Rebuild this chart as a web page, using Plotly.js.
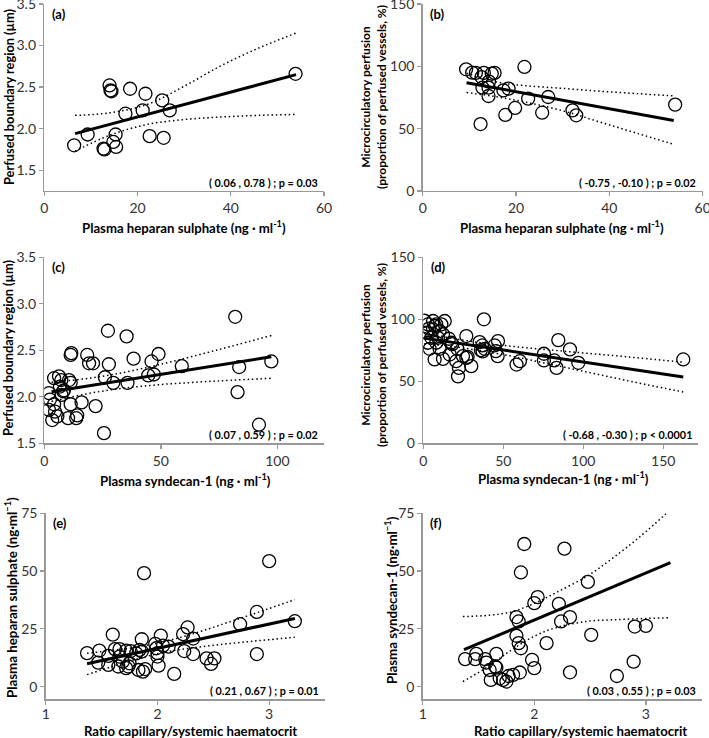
<!DOCTYPE html>
<html><head><meta charset="utf-8">
<script src="https://cdn.plot.ly/plotly-3.0.1.min.js"></script>
<style>html,body{margin:0;padding:0;background:#fff}#chart{width:709px;height:738px}</style>
</head><body><div id="chart"></div>
<script>
// ---- Panel (a): perfused boundary region vs plasma heparan sulphate
const aX = [6.4, 9.3, 12.7, 12.9, 14.0, 14.2, 14.4, 14.8, 15.3, 15.4, 17.4, 18.4, 21.1, 21.7, 22.6, 25.3, 25.6, 26.9, 53.9];
const aY = [1.80, 1.93, 1.76, 1.75, 2.52, 2.46, 2.45, 1.84, 1.93, 1.78, 2.18, 2.48, 2.22, 2.42, 1.91, 2.34, 1.89, 2.22, 2.66];
const aRegX = [6.6, 54], aRegY = [1.94, 2.65];
const aCIx = [6.6, 14, 22, 30, 38, 46, 54];
const aUp = [2.16, 2.19, 2.29, 2.51, 2.76, 2.97, 3.15];
const aLo = [1.73, 1.92, 2.05, 2.11, 2.14, 2.16, 2.17];
const aStat = "( 0.06 , 0.78 ) ; p = 0.03";

// ---- Panel (b): microcirculatory perfusion vs plasma heparan sulphate
const bX = [9.3, 10.6, 11.4, 12.6, 13.1, 12.8, 12.4, 14.1, 14.2, 14.1, 14.8, 15.4, 17.3, 18.4, 17.7, 19.8, 21.8, 22.6, 25.6, 26.9, 32.1, 32.9, 54.1];
const bY = [97.6, 94.9, 94.7, 91.4, 94.7, 82.9, 53.7, 82.9, 87.7, 76.2, 94.1, 94.7, 80.7, 82.1, 61.0, 66.6, 99.5, 74.1, 62.8, 75.4, 64.7, 60.7, 69.3];
const bRegX = [9.4, 53.8], bRegY = [86.9, 56.6];
const bCIx = [9.4, 15.9, 22, 30, 38, 46, 54];
const bUp = [94.5, 87.4, 84.5, 82.3, 80.0, 78.1, 76.2];
const bLo = [79.0, 75.5, 71.3, 64.4, 55.3, 46.2, 37.2];
const bStat = "( -0.75 , -0.10 ) ; p = 0.02";

// ---- Panel (c): perfused boundary region vs plasma syndecan-1
const cX = [2.0, 2.4, 2.0, 3.4, 4.2, 4.2, 4.6, 5.6, 6.3, 6.7, 7.3, 7.4, 8.1, 8.4, 10.2, 10.6, 11.3, 11.3, 11.6, 11.3, 13.7, 14.1, 16.0, 18.4, 19.2, 20.9, 22.0, 25.6, 26.0, 27.3, 27.7, 29.6, 35.3, 35.7, 38.3, 44.6, 46.0, 47.0, 49.0, 59.0, 81.9, 82.9, 83.6, 92.1, 97.4];
const cY = [2.04, 1.97, 1.86, 1.75, 2.20, 1.92, 1.84, 1.79, 2.22, 2.11, 2.18, 2.02, 2.06, 2.07, 1.77, 2.18, 2.15, 1.92, 2.47, 2.45, 1.77, 1.80, 1.94, 2.45, 2.36, 2.36, 1.90, 1.61, 2.21, 2.71, 2.35, 2.15, 2.65, 2.15, 2.41, 2.23, 2.38, 2.24, 2.46, 2.33, 2.86, 2.05, 2.32, 1.70, 2.38];
const cRegX = [3.1, 97.4], cRegY = [2.054, 2.43];
const cCIx = [3.1, 10, 20, 30, 40, 50, 60, 70, 80, 97.4];
const cUp = [2.157, 2.173, 2.202, 2.242, 2.293, 2.350, 2.411, 2.476, 2.542, 2.659];
const cLo = [1.951, 1.989, 2.040, 2.080, 2.109, 2.132, 2.149, 2.164, 2.178, 2.199];
const cStat = "( 0.07 , 0.59 ) ; p = 0.02";

// ---- Panel (d): microcirculatory perfusion vs plasma syndecan-1
const dX = [0.8, 2.9, 1.9, 2.9, 4.0, 5.0, 6.1, 6.1, 7.1, 8.1, 8.1, 9.2, 10.2, 10.2, 11.3, 12.3, 12.3, 13.4, 16.0, 16.5, 17.5, 18.1, 20.6, 21.3, 22.3, 21.7, 24.8, 26.9, 26.9, 27.7, 30.0, 35.2, 36.9, 36.0, 37.1, 37.9, 38.4, 44.6, 45.4, 46.5, 46.7, 58.3, 60.4, 75.4, 75.4, 81.9, 83.3, 84.4, 91.7, 96.9, 162.5, 3.5, 7.3];
const dY = [98.8, 95.9, 89.2, 81.1, 76.2, 85.1, 98.6, 91.9, 67.6, 95.9, 81.1, 85.1, 90.5, 76.2, 95.9, 87.8, 68.1, 98.6, 84.3, 71.6, 81.1, 80.0, 66.2, 76.2, 60.8, 54.0, 70.3, 68.9, 86.5, 69.7, 62.2, 81.6, 78.9, 75.1, 74.1, 100.0, 76.2, 78.9, 74.3, 70.3, 82.4, 63.5, 66.2, 72.2, 66.8, 66.8, 60.8, 83.2, 75.7, 64.9, 67.6, 92.5, 94.6];
const dRegX = [0.6, 162.5], dRegY = [84.8, 53.4];
const dCIx = [0.6, 20, 40, 60, 80, 100, 120, 140, 162.5];
const dUp = [89.4, 84.3, 80.4, 77.6, 75.2, 72.9, 70.6, 68.2, 65.4];
const dLo = [80.2, 77.7, 73.8, 69.0, 63.6, 58.1, 52.6, 47.2, 41.4];
const dStat = "( -0.68 , -0.30 ) ; p < 0.0001";

// ---- Panel (e): plasma heparan sulphate vs haematocrit ratio
const eX = [1.37, 1.47, 1.48, 1.56, 1.56, 1.60, 1.62, 1.65, 1.66, 1.66, 1.69, 1.72, 1.72, 1.74, 1.75, 1.76, 1.81, 1.83, 1.84, 1.86, 1.86, 1.87, 1.88, 1.89, 1.98, 1.99, 2.0, 2.0, 2.01, 2.03, 2.05, 2.10, 2.15, 2.23, 2.24, 2.27, 2.32, 2.32, 2.44, 2.48, 2.51, 2.74, 2.89, 2.89, 3.0, 3.23];
const eY = [14.5, 10.4, 15.6, 13.3, 9.4, 22.5, 16.2, 8.7, 16.2, 13.0, 10.8, 15.6, 8.0, 8.7, 10.1, 15.4, 14.4, 7.2, 15.9, 15.2, 20.5, 6.5, 49.1, 7.6, 18.5, 16.6, 14.5, 13.0, 9.1, 22.1, 17.7, 17.3, 5.5, 22.7, 15.4, 25.6, 20.8, 14.1, 12.2, 9.8, 12.2, 27.0, 32.3, 14.1, 54.3, 28.3];
const eRegX = [1.37, 3.23], eRegY = [9.9, 29.5];
const eCIx = [1.37, 1.6, 1.8, 2.0, 2.2, 2.4, 2.6, 2.8, 3.0, 3.23];
const eUp = [14.4, 15.7, 17.0, 18.8, 21.2, 24.1, 27.3, 30.5, 33.8, 37.6];
const eLo = [5.2, 8.8, 11.7, 14.2, 16.0, 17.3, 18.4, 19.4, 20.3, 21.4];
const eStat = "( 0.21 , 0.67 ) ; p = 0.01";

// ---- Panel (f): plasma syndecan-1 vs haematocrit ratio
const fX = [1.38, 1.47, 1.48, 1.56, 1.57, 1.60, 1.61, 1.65, 1.66, 1.69, 1.72, 1.75, 1.77, 1.81, 1.84, 1.84, 1.86, 1.86, 1.87, 1.88, 1.88, 1.91, 1.98, 2.0, 2.0, 2.03, 2.11, 2.22, 2.24, 2.27, 2.32, 2.32, 2.48, 2.51, 2.74, 2.89, 2.90, 3.0, 1.66];
const fY = [11.9, 11.9, 14.2, 11.9, 10.4, 7.2, 2.9, 8.7, 14.2, 3.6, 2.9, 2.2, 4.6, 5.1, 30.1, 22.0, 28.2, 18.8, 6.1, 16.6, 49.4, 61.7, 11.6, 8.0, 36.1, 38.7, 18.8, 35.8, 28.2, 59.7, 30.1, 6.2, 45.3, 22.4, 4.6, 10.8, 26.0, 26.3, 8.2];
const fRegX = [1.37, 3.22], fRegY = [16.0, 53.6];
const fCIx = [1.36, 1.6, 1.8, 2.0, 2.2, 2.48, 2.7, 2.95, 3.22];
const fUp = [30.3, 30.9, 32.4, 36.0, 40.8, 48.0, 55.5, 65.0, 76.5];
const fLo = [2.2, 9.1, 16.0, 21.8, 25.6, 28.3, 28.9, 29.4, 29.8];
const fStat = "( 0.03 , 0.55 ) ; p = 0.03";

// ---- Labels
const panelLabels = ["(a)", "(b)", "(c)", "(d)", "(e)", "(f)"];
const xTitles = [
  "Plasma heparan sulphate (ng · ml<sup>-1</sup>)",
  "Plasma heparan sulphate (ng · ml<sup>-1</sup>)",
  "Plasma syndecan-1 (ng · ml<sup>-1</sup>)",
  "Plasma syndecan-1 (ng · ml<sup>-1</sup>)",
  "Ratio capillary/systemic haematocrit",
  "Ratio capillary/systemic haematocrit"
];
const yTitles = [
  "Perfused boundary region (µm)",
  "Microcirculatory perfusion<br>(proportion of perfused vessels, %)",
  "Perfused boundary region (µm)",
  "Microcirculatory perfusion<br>(proportion of perfused vessels, %)",
  "Plasma heparan sulphate (ng·ml<sup>−1</sup>)",
  "Plasma syndecan-1 (ng·ml<sup>−1</sup>)"
];

const FONT = 'Lato, "Open Sans", sans-serif';
const W = 709, H = 738;
const panels = [
  {x: aX, y: aY, rx: aRegX, ry: aRegY, cx: aCIx, up: aUp, lo: aLo, stat: aStat},
  {x: bX, y: bY, rx: bRegX, ry: bRegY, cx: bCIx, up: bUp, lo: bLo, stat: bStat},
  {x: cX, y: cY, rx: cRegX, ry: cRegY, cx: cCIx, up: cUp, lo: cLo, stat: cStat},
  {x: dX, y: dY, rx: dRegX, ry: dRegY, cx: dCIx, up: dUp, lo: dLo, stat: dStat},
  {x: eX, y: eY, rx: eRegX, ry: eRegY, cx: eCIx, up: eUp, lo: eLo, stat: eStat},
  {x: fX, y: fY, rx: fRegX, ry: fRegY, cx: fCIx, up: fUp, lo: fLo, stat: fStat}
];

// axis geometry (domains, ranges, ticks) and title placement (pixels)
const xDom = [[0.0625, 0.457], [0.5962, 0.9911], [0.0625, 0.457], [0.597, 0.9849], [0.0645, 0.4584], [0.5962, 0.9897]];
const yDom = [[0.7412, 0.9946], [0.7412, 0.9946], [0.3993, 0.6514], [0.3993, 0.6514], [0.0524, 0.3045], [0.0524, 0.3045]];
const xRng = [[0, 60], [0, 60], [0, 120], [0, 171.9], [1, 3.5], [1, 3.5]];
const yRng = [[1.25, 3.5], [0, 150], [1.5, 3.5], [0, 150], [-5.5, 75], [-5.5, 75]];
const xDt = [20, 20, 50, 50, 1, 1];
const yDt = [0.5, 50, 0.5, 50, 25, 25];
const y0 = [1.5, 0, 1.5, 0, 0, 0];
const yFmt = [".1f", "", ".1f", "", "", ""];
const xTickShift = [0, 0, 0, 0, -3, -3];
const xTitlePos = [[184, 227], [562, 227], [185, 480], [563, 478], [190, 730.5], [580, 730.5]];
const xTitleSize = [13.2, 13.2, 13.2, 13.2, 13.2, 13.2];
const yTitlePos = [[9, 97], [373, 97], [8, 348], [373, 355], [11, 598], [391, 600]];
const yTitleSize = [12.8, 12, 12.8, 12, 13.3, 13.3];

const traces = [];
const layout = {
  width: W, height: H,
  margin: {l: 0, r: 0, t: 0, b: 0},
  paper_bgcolor: "#fff", plot_bgcolor: "rgba(0,0,0,0)",
  showlegend: false,
  font: {family: FONT, color: "#000"},
  annotations: []
};

panels.forEach((p, i) => {
  const n = i + 1;
  const xa = n === 1 ? "x" : "x" + n;
  const ya = n === 1 ? "y" : "y" + n;
  const dotted = {color: "#000", width: 1.5, dash: "1.5px,2.8px", shape: "spline"};
  traces.push({x: p.cx, y: p.up, xaxis: xa, yaxis: ya, mode: "lines", line: dotted, hoverinfo: "skip"});
  traces.push({x: p.cx, y: p.lo, xaxis: xa, yaxis: ya, mode: "lines", line: dotted, hoverinfo: "skip"});
  traces.push({x: p.rx, y: p.ry, xaxis: xa, yaxis: ya, mode: "lines", line: {color: "#000", width: 3}});
  traces.push({x: p.x, y: p.y, xaxis: xa, yaxis: ya, mode: "markers", type: "scatter",
    marker: {symbol: "circle-open", size: 13, color: "#000", line: {width: 1.3, color: "#000"}}});

  const common = {
    showgrid: false, zeroline: false, showline: true, linecolor: "#999", linewidth: 1.5,
    ticks: "outside", ticklen: 4, tickcolor: "#999", tickwidth: 1.3, ticklabeloverflow: "allow",
    tickfont: {family: FONT, size: 14, color: "#333"}, fixedrange: true
  };
  layout["xaxis" + (n === 1 ? "" : n)] = Object.assign({}, common, {
    domain: xDom[i], range: xRng[i], anchor: ya, tick0: xRng[i][0], dtick: xDt[i],
    ticklabelstandoff: xTickShift[i]
  });
  layout["yaxis" + (n === 1 ? "" : n)] = Object.assign({}, common, {
    domain: yDom[i], range: yRng[i], anchor: xa, tick0: y0[i], dtick: yDt[i], tickformat: yFmt[i]
  });
  // axis titles
  layout.annotations.push({
    text: xTitles[i], xref: "paper", yref: "paper",
    x: xTitlePos[i][0] / W, y: 1 - xTitlePos[i][1] / H, xanchor: "center", yanchor: "middle",
    showarrow: false, font: {family: FONT, size: xTitleSize[i], weight: 700, color: "#000"}
  });
  layout.annotations.push({
    text: yTitles[i], xref: "paper", yref: "paper", textangle: -90,
    x: yTitlePos[i][0] / W, y: 1 - yTitlePos[i][1] / H, xanchor: "center", yanchor: "middle",
    showarrow: false, align: "center", font: {family: FONT, size: yTitleSize[i], weight: 700, color: "#000"}
  });
  // panel letter
  layout.annotations.push({
    text: panelLabels[i], xref: xa + " domain", yref: ya + " domain", x: 0.02, y: 1.0,
    xanchor: "left", yanchor: "top", showarrow: false,
    font: {family: FONT, size: 13, weight: 700, color: "#000"}
  });
  // statistics
  layout.annotations.push({
    text: p.stat, xref: xa + " domain", yref: ya + " domain", x: 0.985, y: 0.0,
    xanchor: "right", yanchor: "bottom", showarrow: false,
    font: {family: FONT, size: 10.8, weight: 700, color: "#000"}
  });
});

Plotly.newPlot("chart", traces, layout, {displayModeBar: false, staticPlot: true});
</script></body></html>
